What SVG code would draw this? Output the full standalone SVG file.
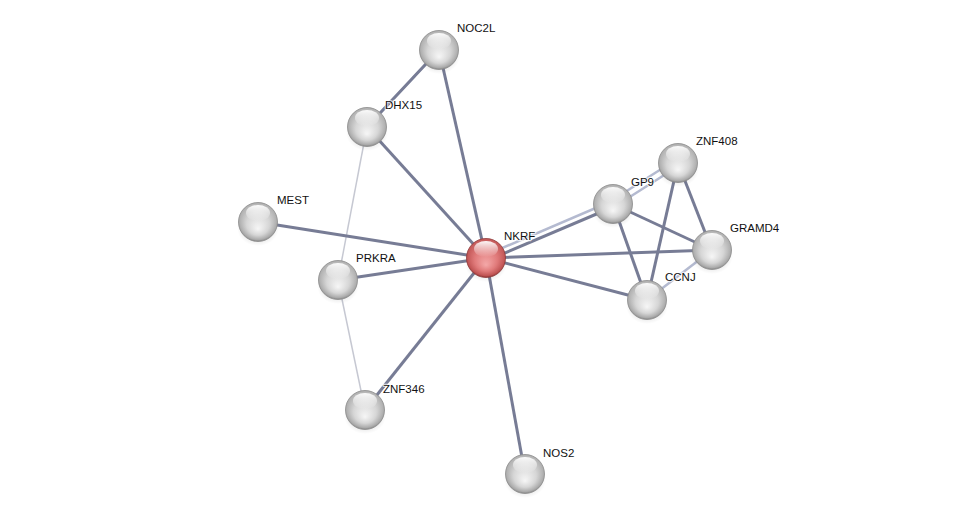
<svg xmlns="http://www.w3.org/2000/svg" width="975" height="520" viewBox="0 0 975 520">
<defs>
<radialGradient id="gw" cx="50%" cy="42%" r="58%" fx="50%" fy="68%">
<stop offset="0%" stop-color="#f6f6f6"/>
<stop offset="50%" stop-color="#d6d6d6"/>
<stop offset="85%" stop-color="#ababab"/>
<stop offset="100%" stop-color="#858585"/>
</radialGradient>
<radialGradient id="gr" cx="50%" cy="42%" r="58%" fx="50%" fy="68%">
<stop offset="0%" stop-color="#f4a8a8"/>
<stop offset="50%" stop-color="#e07a7a"/>
<stop offset="85%" stop-color="#c05454"/>
<stop offset="100%" stop-color="#8a3030"/>
</radialGradient>
<linearGradient id="hl" x1="0" y1="0" x2="0" y2="1">
<stop offset="0%" stop-color="#ffffff" stop-opacity="0.95"/>
<stop offset="100%" stop-color="#ffffff" stop-opacity="0"/>
</linearGradient>
<radialGradient id="sh" cx="50%" cy="50%" r="50%">
<stop offset="0%" stop-color="#000" stop-opacity="0.25"/>
<stop offset="100%" stop-color="#000" stop-opacity="0"/>
</radialGradient>
<g id="ball">
<ellipse cx="0" cy="6" rx="21" ry="18" fill="url(#sh)"/>
<circle r="19.5" fill="url(#gw)" stroke="#8a8a8a" stroke-width="0.8"/>
<ellipse cx="0" cy="-9" rx="12" ry="8" fill="url(#hl)"/>
</g>
<g id="redball">
<ellipse cx="0" cy="6" rx="21" ry="18" fill="url(#sh)"/>
<circle r="19.5" fill="url(#gr)" stroke="#8e3a3a" stroke-width="0.8"/>
<ellipse cx="0" cy="-9" rx="12" ry="8" fill="url(#hl)"/>
</g>
</defs>
<style>
.e{stroke:#777c95;stroke-width:3;fill:none}
.l{stroke:#c6c8d2;stroke-width:1.5;fill:none}
.b{stroke:#b4bad0;stroke-width:2.5;fill:none}
.t{font-family:"Liberation Sans",Arial,sans-serif;font-size:11.5px;fill:#111;stroke:#ffffff;stroke-width:2.5;stroke-opacity:0.7;paint-order:stroke;stroke-linejoin:round}
</style>
<rect width="975" height="520" fill="#ffffff"/>
<g id="connectors">
<line class="b" x1="439" y1="50" x2="367" y2="127" stroke-width="5"/>
<line class="e" x1="439" y1="50" x2="367" y2="127" stroke-width="2.5"/>
<line class="e" x1="439" y1="50" x2="486" y2="258"/>
<line class="e" x1="367" y1="127" x2="486" y2="258"/>
<line class="l" x1="367" y1="127" x2="338" y2="280"/>
<line class="e" x1="258" y1="222" x2="486" y2="258"/>
<line class="e" x1="338" y1="280" x2="486" y2="258"/>
<line class="l" x1="338" y1="280" x2="365" y2="410"/>
<line class="e" x1="365" y1="410" x2="486" y2="258"/>
<line class="e" x1="525" y1="474" x2="486" y2="258"/>
<line class="b" x1="486" y1="255" x2="612" y2="201"/>
<line class="e" x1="486" y1="261" x2="613" y2="207" stroke="#8a90a8"/>
<line class="e" x1="486" y1="258" x2="712" y2="250"/>
<line class="e" x1="486" y1="258" x2="647" y2="300"/>
<line class="b" x1="611" y1="201" x2="677" y2="159"/>
<line class="b" x1="614" y1="207" x2="680" y2="165"/>
<line class="e" x1="613" y1="204" x2="712" y2="250"/>
<line class="e" x1="613" y1="204" x2="647" y2="300"/>
<line class="e" x1="678" y1="163" x2="647" y2="300"/>
<line class="e" x1="678" y1="163" x2="712" y2="250"/>
<line class="b" x1="712" y1="250" x2="647" y2="300"/>
</g>
<g id="NOC2L"><use href="#ball" x="439" y="50"/><text class="t" x="457" y="32">NOC2L</text></g>
<g id="DHX15"><use href="#ball" x="367" y="127"/><text class="t" x="385" y="109">DHX15</text></g>
<g id="MEST"><use href="#ball" x="258" y="222"/><text class="t" x="277" y="204">MEST</text></g>
<g id="PRKRA"><use href="#ball" x="338" y="280"/><text class="t" x="356" y="262">PRKRA</text></g>
<g id="ZNF346"><use href="#ball" x="365" y="410"/><text class="t" x="383" y="393">ZNF346</text></g>
<g id="NOS2"><use href="#ball" x="525" y="474"/><text class="t" x="543" y="457">NOS2</text></g>
<g id="GP9"><use href="#ball" x="613" y="204"/><text class="t" x="631" y="186">GP9</text></g>
<g id="ZNF408"><use href="#ball" x="678" y="163"/><text class="t" x="696" y="145">ZNF408</text></g>
<g id="GRAMD4"><use href="#ball" x="712" y="250"/><text class="t" x="730" y="232">GRAMD4</text></g>
<g id="CCNJ"><use href="#ball" x="647" y="300"/><text class="t" x="665" y="281">CCNJ</text></g>
<g id="NKRF"><use href="#redball" x="486" y="258"/><text class="t" x="504" y="240">NKRF</text></g>
</svg>
